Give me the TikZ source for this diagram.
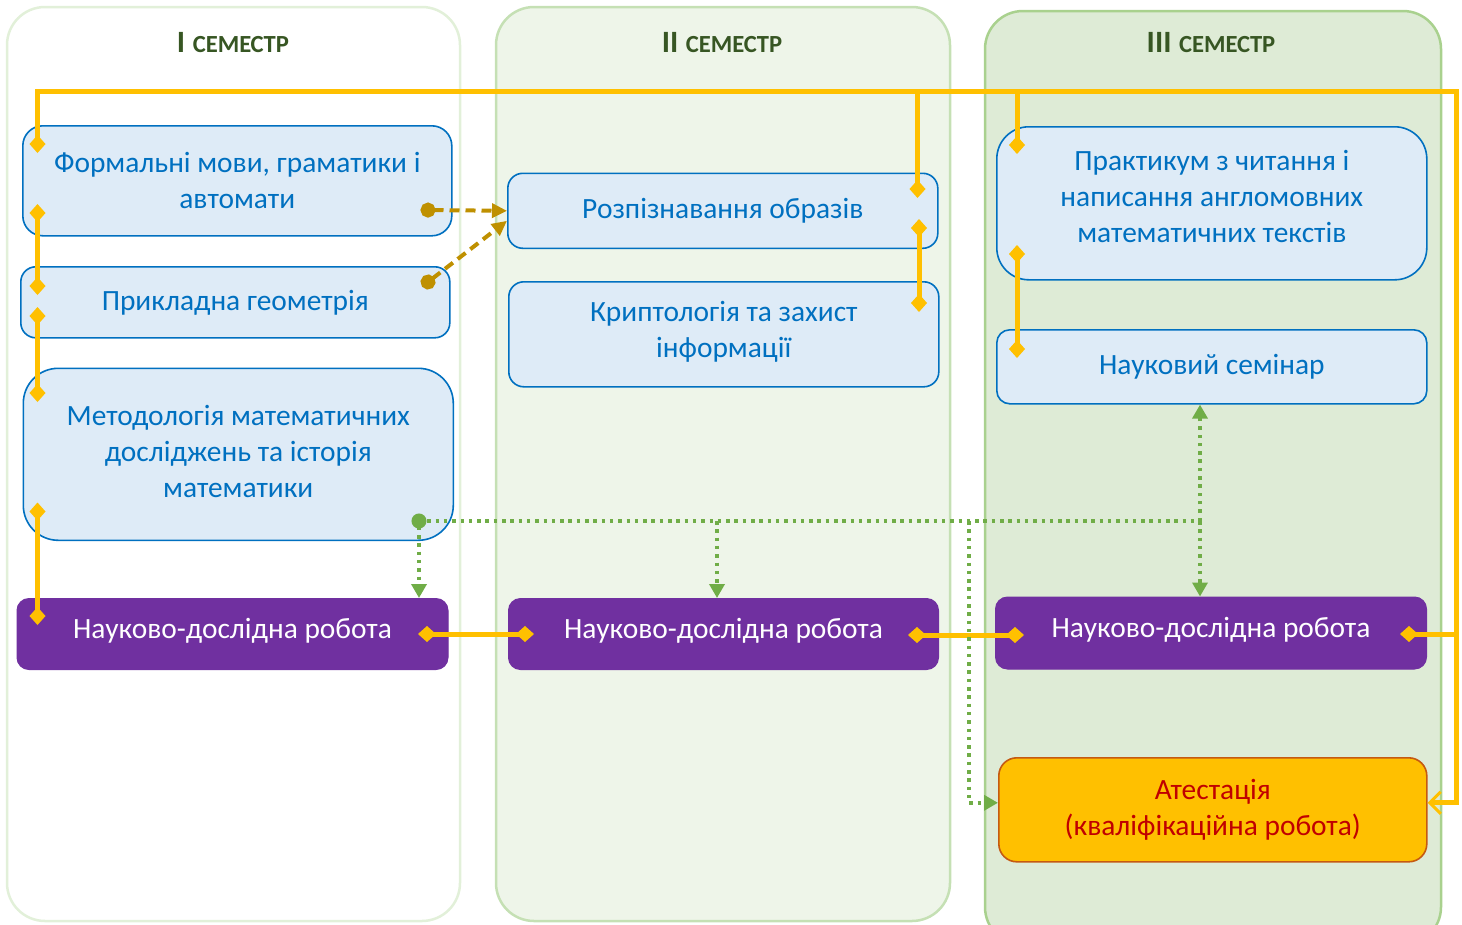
\documentclass[tikz,border=0pt]{standalone}
\usepackage{fontspec}
\setmainfont{Carlito}
\usetikzlibrary{arrows.meta,calc}
\definecolor{ygold}{HTML}{FFC000}
\definecolor{bgold}{HTML}{BF9000}
\definecolor{ggreen}{HTML}{70AD47}
\definecolor{bblue}{HTML}{0070C0}
\definecolor{bfill}{HTML}{DEEBF7}
\definecolor{purp}{HTML}{7030A0}
\definecolor{aborder}{HTML}{C55A11}
\definecolor{ared}{HTML}{C00000}
\definecolor{hgreen}{HTML}{375623}
\definecolor{cOneB}{HTML}{E2F0D9}
\definecolor{cTwoF}{HTML}{EEF5E9}
\definecolor{cTwoB}{HTML}{C5E0B4}
\definecolor{cThrF}{HTML}{DEEBD6}
\definecolor{cThrB}{HTML}{A9D18E}
\tikzset{
  Dia/.tip={Turned Square[length=18pt,width=16pt]},
  Tri/.tip={Triangle[length=14pt,width=15pt]},
  Dot/.tip={Circle[length=15pt]},
  colbox/.style={rounded corners=38pt, line width=2.5pt},
  btext/.style={inner sep=0pt, align=center, font=\fontsize{29.4}{36}\selectfont},
  box/.style={draw=bblue, fill=bfill, line width=1.6pt, rounded corners=#1, anchor=north west,
    btext, text=bblue},
  rbox/.style={draw=purp, fill=purp, line width=1pt, rounded corners=12pt, anchor=north west,
    btext, text=white},
  abox/.style={draw=aborder, fill=ygold, line width=1.6pt, rounded corners=18pt, anchor=north west,
    btext, text=ared},
  head/.style={text=hgreen, font=\bfseries},
  yl/.style={draw=ygold, line width=5pt},
  gr/.style={draw=ggreen, line width=3.5pt, dash pattern=on 3.5pt off 4.8pt},
  br/.style={draw=bgold, line width=4pt, dash pattern=on 10pt off 6pt},
}
\newcommand{\semhead}[1]{{\fontsize{31}{34}\selectfont #1}\hspace{7.5pt}{\fontsize{24.6}{34}\selectfont СЕМЕСТР}}
\begin{document}
\begin{tikzpicture}[x=1pt,y=-1pt]
\useasboundingbox (0,0) rectangle (1462,924);
% columns
\path[colbox, draw=cOneB, fill=white] (7,7) rectangle (460,921);
\path[colbox, draw=cTwoB, fill=cTwoF] (496,7) rectangle (950,921);
\begin{scope}
\clip (0,0) rectangle (1462,924);
\path[colbox, draw=cThrB, fill=cThrF] (985,11) rectangle (1441,945);
\end{scope}
% headers
\node[head] (H1) at (233,43) {\semhead{I}};
\node[head] (H2) at (722,43) {\semhead{II}};
\node[head] (H3) at (1211,43) {\semhead{III}};
% column 1
\node[box=20pt, minimum width=429, minimum height=110] (F1) at (22,125) {Формальні мови, граматики і\\автомати};
\node[box=15pt, minimum width=429, minimum height=71] (F2) at (20,266) {Прикладна геометрія};
\node[box=35pt, minimum width=430, minimum height=172,
  label={[btext, text=bblue, yshift=3pt]center:Методологія математичних\\досліджень та історія\\математики}] (F3) at (22.5,367.5) {};
\node[rbox, minimum width=431, minimum height=71,
  label={[btext, text=white, yshift=3pt]center:Науково-дослідна робота}] (R1) at (16.5,598) {};
% column 2
\node[box=15pt, minimum width=430, minimum height=75] (M1) at (507,172.5) {Розпізнавання образів};
\node[box=15pt, minimum width=430, minimum height=105,
  label={[btext, text=bblue, yshift=3pt]center:Криптологія та захист\\інформації}] (M2) at (508,281) {};
\node[rbox, minimum width=430, minimum height=71,
  label={[btext, text=white, yshift=3pt]center:Науково-дослідна робота}] (R2) at (508,598) {};
% column 3
\node[box=32pt, minimum width=430, minimum height=153,
  label={[btext, text=bblue, yshift=7pt]center:Практикум з читання і\\написання англомовних\\математичних текстів}] (T1) at (996,126) {};
\node[box=13pt, minimum width=430, minimum height=74] (T2) at (996,329) {Науковий семінар};
\node[rbox, minimum width=431, minimum height=72,
  label={[btext, text=white, yshift=3pt]center:Науково-дослідна робота}] (R3) at (995,596.5) {};
\node[abox, minimum width=428, minimum height=104] (A) at (998,757) {Атестація\\(кваліфікаційна робота)};
% yellow connectors
\coordinate (busL) at (37.5,91);
\coordinate (busR) at (1456,91);
\coordinate (dF1) at (37.5,153);
\coordinate (aIn) at ($(A.east)+(0,-7)$);
\draw[yl, {Dia}-{Straight Barb[length=11pt,width=22pt,line width=3pt]}] (dF1) -- (busL) -- (busR) |- (aIn);
\coordinate (bM) at (917.5,91);
\coordinate (dM1) at (917.5,198);
\draw[yl,-{Dia}] (bM) -- (dM1);
\coordinate (bT) at (1017,91);
\coordinate (dT1) at (1017,154);
\draw[yl,-{Dia}] (bT) -- (dT1);
\coordinate (rR3) at (1456,634);
\coordinate (dR3) at (1400,634);
\draw[yl,-{Dia}] (rR3) -- (dR3);
\coordinate (f1b) at (37.5,204); \coordinate (f2t) at (37.5,295);
\draw[yl,{Dia}-{Dia}] (f1b) -- (f2t);
\coordinate (f2b) at (37.5,307); \coordinate (f3t) at (37.5,402);
\draw[yl,{Dia}-{Dia}] (f2b) -- (f3t);
\coordinate (f3b) at (37.5,502.5); \coordinate (r1l) at (37.5,625);
\draw[yl,{Dia}-{Dia}] (f3b) -- (r1l);
\coordinate (m1b) at (919,219); \coordinate (m2t) at (919,312);
\draw[yl,{Dia}-{Dia}] (m1b) -- (m2t);
\coordinate (t1b) at (1017,245); \coordinate (t2t) at (1017,358);
\draw[yl,{Dia}-{Dia}] (t1b) -- (t2t);
\coordinate (r1r) at (418,634); \coordinate (r2l) at (534,634);
\draw[yl,{Dia}-{Dia}] (r1r) -- (r2l);
\coordinate (r2r) at (908,635); \coordinate (r3l) at (1024,635);
\draw[yl,{Dia}-{Dia}] (r2r) -- (r3l);
% brown dashed
\coordinate (b1s) at (420.5,210);
\draw[br, {Dot}-{Triangle[length=15pt,width=14pt]}] (b1s) -- (M1.west);
\coordinate (b2s) at (422.1,286.6);
\coordinate (b2e) at ($(M1.west)+(0,10)$);
\draw[br, {Dot}-{Triangle[length=15pt,width=14pt]}] (b2s) -- (b2e);
% green dotted
\coordinate (gO) at (419,521);
\coordinate (gOt) at (419,513.5);
\coordinate (gJ) at (1200,521);
\coordinate (gB2) at (717,521);
\coordinate (gB3) at (969,521);
\coordinate (aW) at ($(A.west)+(0,-7)$);
\draw[gr] (gO) -- (gJ);
\draw[gr, {Dot}-{Tri}] (gOt) -- (gO |- R1.north);
\draw[gr, -{Tri}] (gB2) -- (gB2 |- R2.north);
\draw[gr, -{Tri}] (gJ) -- (gJ |- T2.south);
\draw[gr, -{Tri}] (gJ) -- (gJ |- R3.north);
\draw[gr, -{Tri}] (gB3) |- (aW);
\end{tikzpicture}
\end{document}
